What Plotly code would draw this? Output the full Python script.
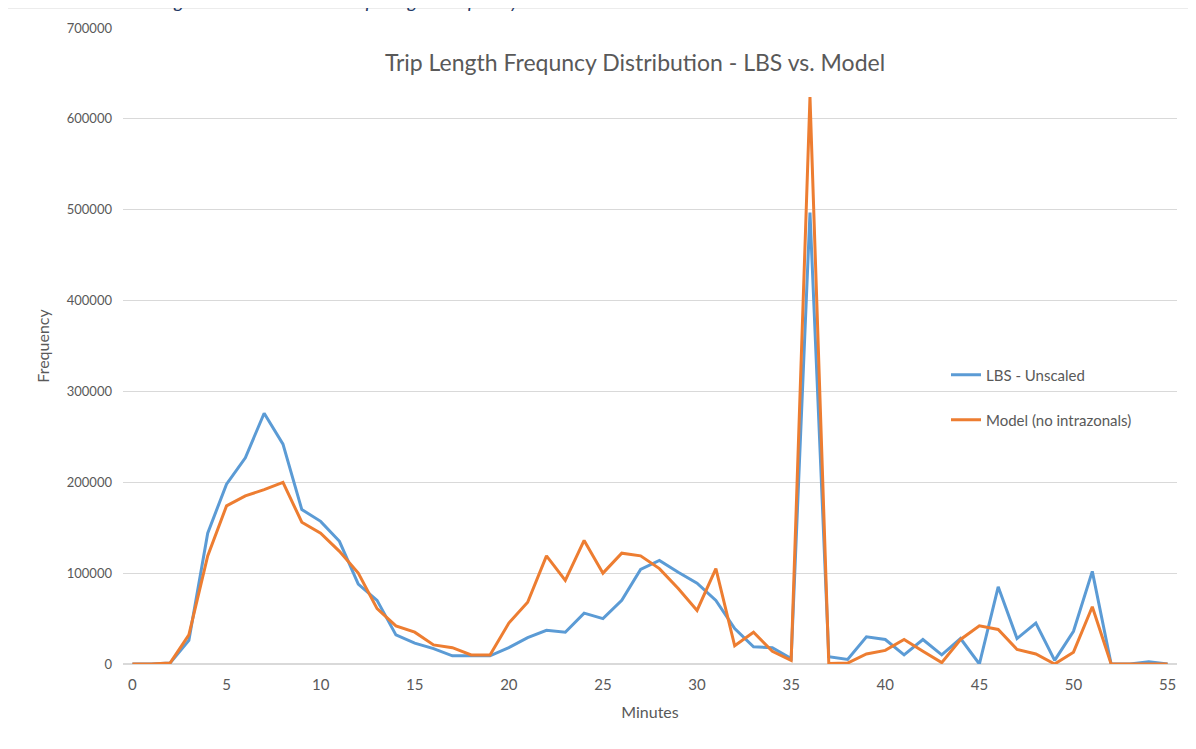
import plotly.graph_objects as go

minutes = list(range(0, 56))
lbs_unscaled = [0, 0, 1000, 26000, 144000, 198000, 227000, 276000, 242000, 170000,
                157000, 135000, 88000, 70000, 32000, 23000, 17000, 9000, 9000, 9000,
                18000, 29000, 37000, 35000, 56000, 50000, 70000, 104000, 114000, 101000,
                89000, 70000, 39000, 19000, 18000, 6000, 497000, 8000, 5000, 30000,
                27000, 10000, 27000, 10000, 28000, 0, 85000, 28000, 45000, 4000,
                36000, 102000, 0, 0, 2500, 0]
model_no_intrazonals = [0, 0, 1000, 32000, 119000, 174000, 185000, 192000, 200000, 156000,
                        144000, 124000, 100000, 61000, 42000, 35000, 21000, 18000, 10000, 10000,
                        45000, 68000, 119000, 92000, 136000, 100000, 122000, 119000, 105000, 83000,
                        59000, 105000, 20000, 35000, 14000, 4000, 624000, 500, 1000, 11000,
                        15000, 27000, 14000, 1500, 27000, 42000, 38000, 16000, 11000, 0,
                        13000, 63000, 0, 0, 0, 0]
x_ticks = [0, 5, 10, 15, 20, 25, 30, 35, 40, 45, 50, 55]
y_ticks = [0, 100000, 200000, 300000, 400000, 500000, 600000, 700000]

FONT = "Lato"
GRAY = "#595959"
W, H = 1196, 749
OFF = 8  # page body offset
PL, PR, PT, PB = 123, 1177, 28, 664  # plot area in screen pixels


def px(x):
    return (x - PL) / (PR - PL)


def py(y):
    return (PB - y) / (PB - PT)


fig = go.Figure()
fig.add_trace(go.Scatter(x=minutes, y=lbs_unscaled, mode="lines", name="LBS - Unscaled",
                         line=dict(color="#5b9bd5", width=3), legend="legend"))
fig.add_trace(go.Scatter(x=minutes, y=model_no_intrazonals, mode="lines", name="Model (no intrazonals)",
                         line=dict(color="#ed7d31", width=3), legend="legend2"))

leg_common = dict(xanchor="left", yanchor="middle", bgcolor="rgba(0,0,0,0)",
                  font=dict(family=FONT, size=15, color=GRAY))

fig.update_layout(
    width=W, height=H,
    margin=dict(l=PL - OFF, r=W + OFF - PR, t=PT - OFF, b=H + OFF - PB),
    paper_bgcolor="white", plot_bgcolor="white",
    font=dict(family=FONT, color=GRAY, size=13),
    title=dict(text="Trip Length Frequncy Distribution - LBS vs. Model",
               font=dict(family=FONT, size=23, color=GRAY),
               x=(635 - OFF) / W, xanchor="center", y=1 - (63 - OFF) / H, yanchor="middle"),
    showlegend=True,
    legend=dict(x=px(946), y=py(375), **leg_common),
    legend2=dict(x=px(946), y=py(420), **leg_common),
    xaxis=dict(range=[-0.5, 55.5], tickvals=x_ticks, showgrid=False, zeroline=False,
               showline=False, ticks="", tickfont=dict(size=15, color=GRAY),
               ticklabelstandoff=10,
               title=dict(text="Minutes", font=dict(size=16, color=GRAY), standoff=14)),
    yaxis=dict(range=[0, 700000], tickvals=y_ticks, tickformat="d", showgrid=True,
               gridcolor="#d9d9d9", gridwidth=1, zeroline=True, zerolinecolor="#d9d9d9",
               showline=False, ticks="", tickfont=dict(size=13, color=GRAY),
               ticklabelstandoff=10,
               title=dict(text="Frequency", font=dict(size=16, color=GRAY), standoff=13)),
)

# chart frame
fig.add_shape(type="rect", xref="paper", yref="paper",
              x0=px(7), x1=px(1194), y0=py(770), y1=py(8),
              line=dict(color="#d9d9d9", width=1), fillcolor="rgba(0,0,0,0)", layer="below")

# cut-off caption at the very top of the image
fig.add_annotation(text="<i>Figure 5: LBS vs. Model Trip Length Frequency</i>", xref="paper", yref="paper",
                   x=px(158), y=py(14), xanchor="left", yanchor="bottom",
                   showarrow=False, font=dict(family=FONT, size=19, color="#1f3864"))

fig.write_html("out.html")
